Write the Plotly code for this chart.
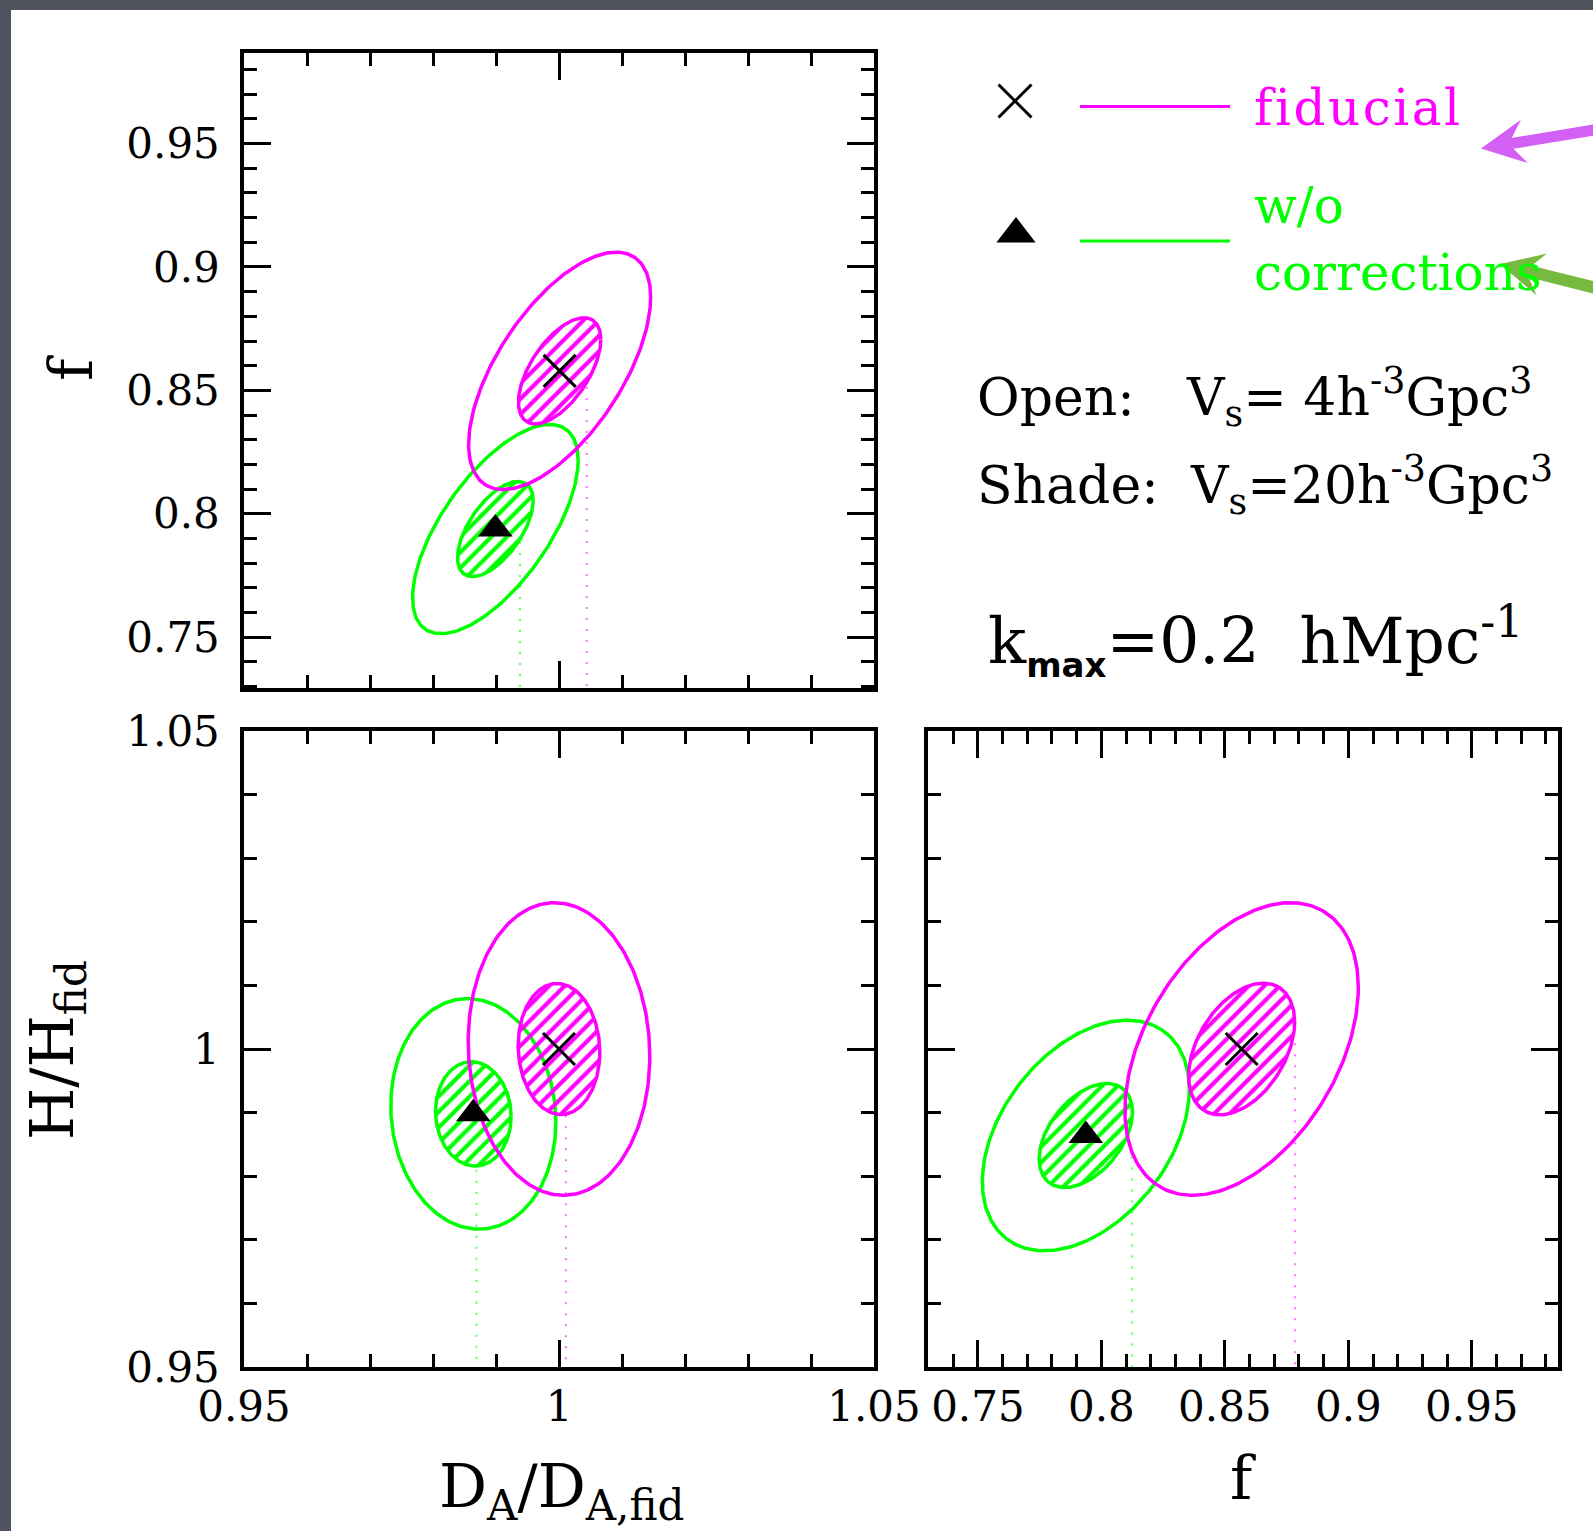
import numpy as np
import plotly.graph_objects as go

W, HT = 1593, 1531

# ---------------- tick labels ----------------
DA_ticks = [0.95, 1.0, 1.05]
DA_ticktext = ["0.95", "1", "1.05"]
f_ticks = [0.75, 0.8, 0.85, 0.9, 0.95]
f_ticktext = ["0.75", "0.8", "0.85", "0.9", "0.95"]
H_ticks = [0.95, 1.0, 1.05]
H_ticktext = ["0.95", "1", "1.05"]

DA_range = [0.95, 1.05]
H_range = [0.95, 1.05]
f_range_TL = [0.7294, 0.9867]
f_range_BR = [0.7298, 0.9849]

# ---------------- ellipse parameters (sigma_x, sigma_y, correlation) ----------------
# top-left panel: x = D_A/D_A,fid, y = f
fid_TL_center = [1.0001, 0.8579]
fid_TL_outer = [0.01445, 0.0481, 0.62]
fid_TL_inner = [0.00654, 0.0215, 0.59]
wo_TL_center = [0.9899, 0.7938]
wo_TL_outer = [0.01314, 0.0424, 0.656]
wo_TL_inner = [0.0060, 0.01925, 0.60]

# bottom-left panel: x = D_A/D_A,fid, y = H/H_fid
fid_BL_center = [1.0000, 1.0000]
fid_BL_outer = [0.01441, 0.0230, -0.05]
fid_BL_inner = [0.00648, 0.0103, -0.05]
wo_BL_center = [0.9864, 0.9898]
wo_BL_outer = [0.0131, 0.01813, -0.07]
wo_BL_inner = [0.0060, 0.0082, -0.05]

# bottom-right panel: x = f, y = H/H_fid
fid_BR_center = [0.8568, 1.0000]
fid_BR_outer = [0.04725, 0.0230, 0.42]
fid_BR_inner = [0.02146, 0.01035, 0.41]
wo_BR_center = [0.7937, 0.9864]
wo_BR_outer = [0.0419, 0.01813, 0.40]
wo_BR_inner = [0.0189, 0.00818, 0.45]

# dotted vertical guide lines: [x position, upper end]
fid_TL_dot = [1.0044, 0.8514]
wo_TL_dot = [0.9938, 0.7886]
fid_BL_dot = [1.0011, 0.9896]
wo_BL_dot = [0.9869, 0.9810]
fid_BR_dot = [0.8784, 1.0009]
wo_BR_dot = [0.8125, 0.9831]

MAG = "#ff00ff"
GRN = "#00ff00"
MAG_DOT = "#ff77ff"
GRN_DOT = "#66ff66"


def ellipse(center, par, n=240):
    t = np.linspace(0, 2 * np.pi, n)
    sx, sy, rho = par
    x = center[0] + sx * np.cos(t)
    y = center[1] + sy * (rho * np.cos(t) + np.sqrt(1 - rho ** 2) * np.sin(t))
    return x, y


fig = go.Figure()

panels = [
    ("x", "y", fid_TL_center, fid_TL_outer, fid_TL_inner, wo_TL_center, wo_TL_outer, wo_TL_inner,
     fid_TL_dot, wo_TL_dot, f_range_TL[0]),
    ("x2", "y2", fid_BL_center, fid_BL_outer, fid_BL_inner, wo_BL_center, wo_BL_outer, wo_BL_inner,
     fid_BL_dot, wo_BL_dot, H_range[0]),
    ("x3", "y3", fid_BR_center, fid_BR_outer, fid_BR_inner, wo_BR_center, wo_BR_outer, wo_BR_inner,
     fid_BR_dot, wo_BR_dot, H_range[0]),
]

for (xr, yr, fc, fo, fi, wc, wo, wi, fdot, wdot, ybot) in panels:
    # dotted guides
    for dot, col in ((fdot, MAG_DOT), (wdot, GRN_DOT)):
        fig.add_trace(go.Scatter(x=[dot[0], dot[0]], y=[dot[1], ybot], mode="lines",
                                 line=dict(color=col, width=2.2, dash="2px,9px"),
                                 xaxis=xr, yaxis=yr, hoverinfo="skip"))
    for c, outer, inner, col in ((wc, wo, wi, GRN), (fc, fo, fi, MAG)):
        ex, ey = ellipse(c, inner)
        fig.add_trace(go.Scatter(x=ex, y=ey, mode="lines", fill="toself",
                                 fillcolor="rgba(0,0,0,0)",
                                 fillpattern=dict(shape="/", fgcolor=col, bgcolor="rgba(0,0,0,0)",
                                                  size=11, solidity=0.38, fgopacity=1),
                                 line=dict(color=col, width=3.5),
                                 xaxis=xr, yaxis=yr, hoverinfo="skip"))
        ex, ey = ellipse(c, outer)
        fig.add_trace(go.Scatter(x=ex, y=ey, mode="lines", line=dict(color=col, width=3.5),
                                 xaxis=xr, yaxis=yr, hoverinfo="skip"))
    fig.add_trace(go.Scatter(x=[fc[0]], y=[fc[1]], mode="markers",
                             marker=dict(symbol="x-thin", size=32, line=dict(color="black", width=3)),
                             xaxis=xr, yaxis=yr, hoverinfo="skip"))
    fig.add_trace(go.Scatter(x=[wc[0]], y=[wc[1]], mode="markers",
                             marker=dict(symbol="triangle-up", size=30, color="black"),
                             xaxis=xr, yaxis=yr, hoverinfo="skip"))

# ---------------- legend symbols (pixel overlay axis) ----------------
fig.add_trace(go.Scatter(x=[1015], y=[101], mode="markers",
                         marker=dict(symbol="x-thin", size=33, line=dict(color="black", width=3)),
                         xaxis="x4", yaxis="y4", hoverinfo="skip"))
fig.add_trace(go.Scatter(x=[1016], y=[234], mode="markers",
                         marker=dict(symbol="triangle-up", size=34, color="black"),
                         xaxis="x4", yaxis="y4", hoverinfo="skip"))
fig.add_trace(go.Scatter(x=[1080, 1230], y=[106.5, 106.5], mode="lines", line=dict(color=MAG, width=3.2),
                         xaxis="x4", yaxis="y4", hoverinfo="skip"))
fig.add_trace(go.Scatter(x=[1080, 1230], y=[241, 241], mode="lines", line=dict(color=GRN, width=3.2),
                         xaxis="x4", yaxis="y4", hoverinfo="skip"))

# ---------------- axes ----------------
TICKFONT = dict(family="DejaVu Serif", size=42, color="black")


def axis(domain, rng, tickvals, ticktext, minor_vals, labels, anchor, standoff):
    return dict(domain=domain, range=rng, anchor=anchor, tickmode="array", tickvals=tickvals,
                ticktext=ticktext, showticklabels=labels, showline=True, linewidth=3.5,
                linecolor="black", mirror="ticks", ticks="inside", ticklen=27, tickwidth=2.5,
                tickcolor="black", showgrid=False, zeroline=False, tickfont=TICKFONT,
                ticklabelstandoff=standoff, automargin=False,
                minor=dict(tickmode="array", tickvals=minor_vals, ticks="inside", ticklen=13,
                           tickwidth=2.5, tickcolor="black", showgrid=False))


DA_minor = list(np.round(np.arange(0.95, 1.0501, 0.01), 2))
H_minor = list(np.round(np.arange(0.95, 1.0501, 0.01), 2))
f_minor = list(np.round(np.arange(0.73, 0.9851, 0.01), 2))

xTL = [244 / W, 874 / W]
xBR = [928 / W, 1558 / W]
yTL = [1 - 688 / HT, 1 - 53 / HT]
yB = [1 - 1367 / HT, 1 - 731 / HT]

fig.update_layout(
    width=W, height=HT, margin=dict(l=0, r=0, t=0, b=0, pad=0, autoexpand=False), showlegend=False,
    paper_bgcolor="#50545e", plot_bgcolor="rgba(0,0,0,0)",
    xaxis=axis(xTL, DA_range, DA_ticks, DA_ticktext, DA_minor, False, "y", 0),
    yaxis=axis(yTL, f_range_TL, f_ticks, f_ticktext, f_minor, True, "x", 12),
    xaxis2=axis(xTL, DA_range, DA_ticks, DA_ticktext, DA_minor, True, "y2", 0),
    yaxis2=axis(yB, H_range, H_ticks, H_ticktext, H_minor, True, "x2", 12),
    xaxis3=axis(xBR, f_range_BR, f_ticks, f_ticktext, f_minor, True, "y3", 0),
    yaxis3=axis(yB, H_range, H_ticks, H_ticktext, H_minor, False, "x3", 12),
    xaxis4=dict(domain=[0, 1], range=[0, W], visible=False, fixedrange=True, anchor="y4"),
    yaxis4=dict(domain=[0, 1], range=[HT, 0], visible=False, fixedrange=True, anchor="x4"),
)

# white slide area
shapes = [dict(type="rect", xref="paper", yref="paper", x0=11 / W, x1=1, y0=0, y1=1 - 10 / HT,
               fillcolor="white", line=dict(width=0), layer="below")]


def arrow_path(tail, tip, sw, hl, hw, notch):
    tail = np.array(tail, float)
    tip = np.array(tip, float)
    d = tip - tail
    u = d / np.linalg.norm(d)
    n = np.array([-u[1], u[0]])
    base = tip - u * hl
    nj = base + u * notch
    pts = [tail + n * sw / 2, nj + n * sw / 2, base + n * hw, tip, base - n * hw,
           nj - n * sw / 2, tail - n * sw / 2]
    return "M " + " L ".join(f"{p[0]:.1f},{p[1]:.1f}" for p in pts) + " Z"


shapes.append(dict(type="path", xref="x4", yref="y4",
                   path=arrow_path((1600, 129), (1481, 148.5), 11, 44, 22, 12),
                   fillcolor="#d35ff5", line=dict(width=0), layer="above"))
shapes.append(dict(type="path", xref="x4", yref="y4",
                   path=arrow_path((1600, 289), (1500, 264), 12, 43, 21.5, 12),
                   fillcolor="#78b940", line=dict(width=0), layer="above"))
fig.update_layout(shapes=shapes)

SERIF = "DejaVu Serif"


def ann(text, x, y, size, color="black", xanchor="left", yanchor="middle", angle=0):
    return dict(text=text, x=x, y=y, xref="x4", yref="y4", showarrow=False, xanchor=xanchor,
                yanchor=yanchor, textangle=angle, font=dict(family=SERIF, size=size, color=color))


annotations = [
    ann('<span style="letter-spacing:2.5px">fiducial</span>', 1252, 108, 50, MAG),
    ann("w/o", 1252, 206, 50, GRN),
    ann("corrections", 1252, 273, 50, GRN),
    ann("Open:", 975, 397, 52),
    ann("V<sub>s</sub>=&nbsp;4h<sup>-3</sup>Gpc<sup>3</sup>", 1184, 397, 52),
    ann("Shade:", 975, 485, 52),
    ann("V<sub>s</sub>=20h<sup>-3</sup>Gpc<sup>3</sup>", 1188, 485, 52),
    ann('k<sub><span style="font-family:DejaVu Sans;font-weight:bold;font-size:34px">max</span></sub>'
        '=0.2&nbsp;&nbsp;hMpc<sup>-1</sup>', 986, 640, 63),
    ann("D<sub>A</sub>/D<sub>A,fid</sub>", 561, 1490, 60, xanchor="center"),
    ann("f", 1243, 1478, 60, xanchor="center"),
    ann("f", 71, 368, 60, xanchor="center", angle=-90),
    ann("H/H<sub>fid</sub>", 56, 1050, 60, xanchor="center", angle=-90),
]
fig.update_layout(annotations=annotations)

fig.write_html("out.html")
